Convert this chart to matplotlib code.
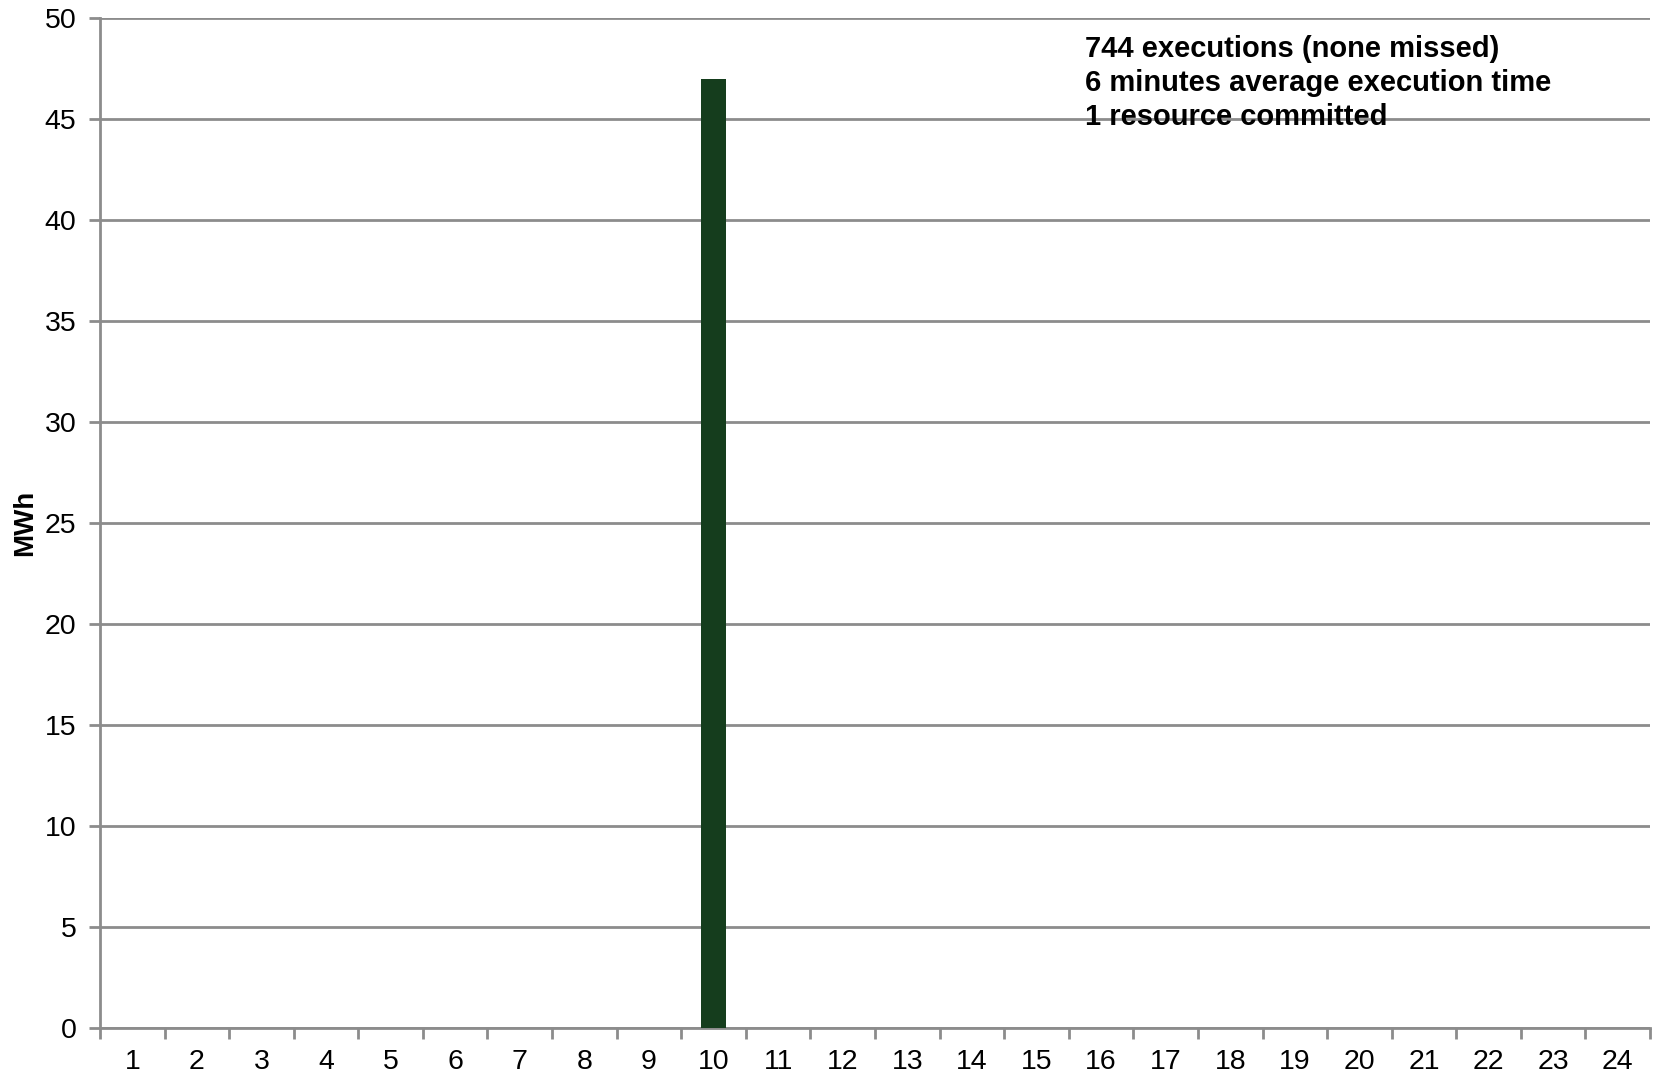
import numpy as np
import matplotlib
matplotlib.use("Agg")
import matplotlib.pyplot as plt

plt.rcParams['font.family'] = ['Liberation Sans', 'DejaVu Sans']

hours = [str(h) for h in range(1, 25)]
mwh = [0, 0, 0, 0, 0, 0, 0, 0, 0, 47, 0, 0, 0, 0, 0, 0, 0, 0, 0, 0, 0, 0, 0, 0]
yticks = [0, 5, 10, 15, 20, 25, 30, 35, 40, 45, 50]
note_lines = ["744 executions (none missed)",
              "6 minutes average execution time",
              "1 resource committed"]

grey = '#8c8c8c'

fig = plt.figure(figsize=(16.55, 10.72), dpi=100)
ax = fig.add_axes([0.0604, 0.0413, 0.9366, 0.9417])

x = np.arange(len(hours))
ax.bar(x, mwh, width=0.4, color='#153d1d', zorder=3)

ax.set_xlim(-0.5, len(hours) - 0.5)
ax.set_ylim(0, 50)
ax.set_yticks(yticks)
ax.set_xticks(x)
ax.set_xticklabels(hours)
# tick marks sit between the hour categories
ax.set_xticks(np.arange(len(hours) + 1) - 0.5, minor=True)

ax.tick_params(axis='x', which='major', length=0, pad=15, labelsize=20.5)
ax.tick_params(axis='x', which='minor', length=8, width=2, color=grey, direction='out')
ax.tick_params(axis='y', length=8, width=2, color=grey, pad=9, labelsize=20.5)

ax.grid(axis='y', color=grey, linewidth=2, zorder=0)
for s in ['top', 'right']:
    ax.spines[s].set_visible(False)
for s in ['left', 'bottom']:
    ax.spines[s].set_color(grey)
    ax.spines[s].set_linewidth(2)

ax.set_ylabel('MWh', fontsize=20, fontweight='bold', labelpad=5)

ax.text(0.6355, 0.983, "\n".join(note_lines), transform=ax.transAxes,
        fontsize=21, fontweight='bold', va='top', ha='left', linespacing=1.27)

fig.savefig('out.png', dpi=100)
